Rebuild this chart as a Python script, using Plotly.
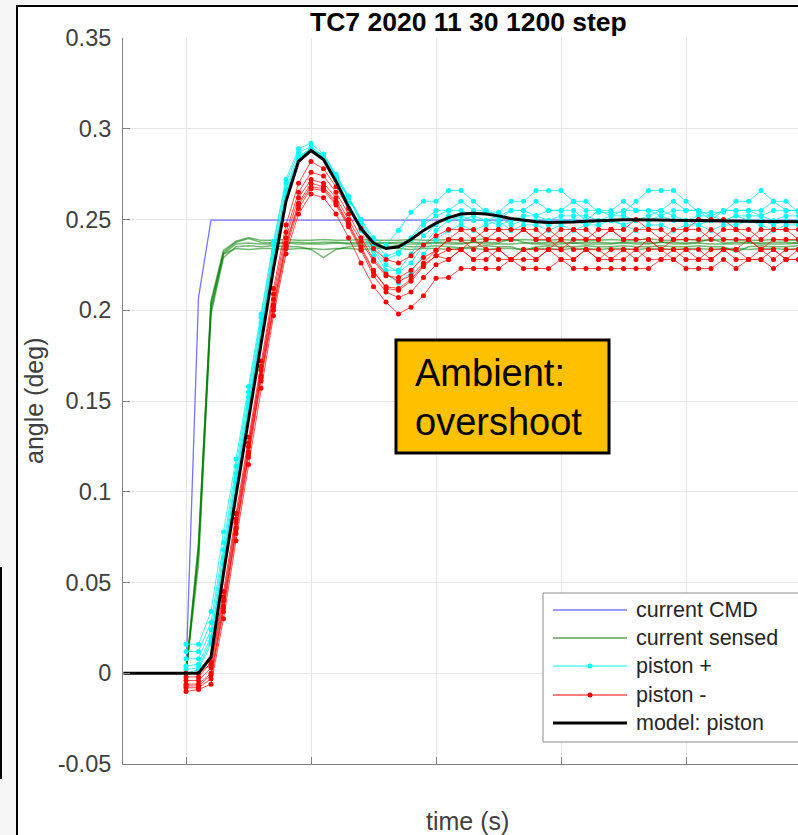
import plotly.graph_objects as go

# ---------------- data ----------------
TIME = [0.0, 0.1, 0.2, 0.3, 0.4, 0.5, 0.6, 0.7, 0.8, 0.9,
        1.0, 1.1, 1.2, 1.3, 1.4, 1.5, 1.6, 1.7, 1.8, 1.9,
        2.0, 2.1, 2.2, 2.3, 2.4, 2.5, 2.6, 2.7, 2.8, 2.9,
        3.0, 3.1, 3.2, 3.3, 3.4, 3.5, 3.6, 3.7, 3.8, 3.9,
        4.0, 4.1, 4.2, 4.3, 4.4, 4.5, 4.6, 4.7, 4.8, 4.9,
        5.0]

CMD_T = [-0.5, 0.0, 0.1, 0.2, 5.0]
CMD_Y = [0.0, 0.0, 0.207, 0.2497, 0.2497]

SENSED = [
    [0.0, 0.070, 0.205, 0.233, 0.238, 0.240, 0.2385, 0.2385, 0.239, 0.2385,
     0.2385, 0.239, 0.2385, 0.2385, 0.239, 0.2385, 0.2385, 0.2385, 0.239, 0.2385,
     0.2385, 0.239, 0.2385, 0.2385, 0.2395, 0.2385, 0.2385, 0.239, 0.2385, 0.2385,
     0.239, 0.2385, 0.2385, 0.2385, 0.239, 0.2385, 0.2385, 0.2395, 0.2385, 0.2385,
     0.239, 0.2385, 0.2385, 0.239, 0.2385, 0.2385, 0.2385, 0.239, 0.2385, 0.2385,
     0.2385],
    [0.0, 0.065, 0.200, 0.231, 0.2365, 0.237, 0.2365, 0.2365, 0.237, 0.2365,
     0.2365, 0.2365, 0.237, 0.2365, 0.2365, 0.2365, 0.237, 0.2365, 0.2365, 0.2365,
     0.237, 0.2365, 0.2365, 0.2375, 0.2365, 0.2365, 0.2365, 0.237, 0.2365, 0.2365,
     0.2365, 0.237, 0.2365, 0.2365, 0.2365, 0.237, 0.2365, 0.2365, 0.2375, 0.2365,
     0.2365, 0.237, 0.2365, 0.2365, 0.2365, 0.237, 0.2365, 0.2365, 0.2365, 0.237,
     0.2365],
    [0.0, 0.060, 0.198, 0.229, 0.235, 0.2355, 0.235, 0.2355, 0.235, 0.235,
     0.2335, 0.229, 0.2335, 0.235, 0.2355, 0.235, 0.235, 0.2355, 0.235, 0.235,
     0.2355, 0.235, 0.2345, 0.235, 0.2355, 0.235, 0.235, 0.233, 0.235, 0.2355,
     0.235, 0.235, 0.2355, 0.235, 0.235, 0.2355, 0.235, 0.235, 0.2355, 0.235,
     0.235, 0.2355, 0.235, 0.235, 0.232, 0.235, 0.2355, 0.235, 0.235, 0.2355,
     0.235],
    [0.0, 0.068, 0.202, 0.231, 0.234, 0.2335, 0.234, 0.234, 0.2335, 0.234,
     0.234, 0.2335, 0.234, 0.234, 0.2335, 0.234, 0.2345, 0.234, 0.2335, 0.234,
     0.234, 0.2335, 0.234, 0.234, 0.2335, 0.234, 0.234, 0.2335, 0.234, 0.234,
     0.2335, 0.234, 0.234, 0.2335, 0.234, 0.234, 0.2335, 0.234, 0.234, 0.2335,
     0.234, 0.234, 0.2335, 0.234, 0.234, 0.2335, 0.234, 0.234, 0.2335, 0.234,
     0.234],
    [0.0, 0.072, 0.204, 0.232, 0.2375, 0.2395, 0.2375, 0.237, 0.2375, 0.2375,
     0.237, 0.2375, 0.2375, 0.237, 0.2375, 0.2375, 0.237, 0.2375, 0.2375, 0.237,
     0.2375, 0.2375, 0.237, 0.2375, 0.2375, 0.237, 0.2395, 0.2375, 0.237, 0.2375,
     0.2375, 0.237, 0.2375, 0.2375, 0.237, 0.2375, 0.2375, 0.237, 0.2375, 0.2375,
     0.237, 0.2375, 0.2395, 0.237, 0.2375, 0.2375, 0.237, 0.2375, 0.2375, 0.237,
     0.2375],
]

PISTON_PLUS = [
    [0.016, 0.016, 0.034, 0.078, 0.118, 0.158, 0.198, 0.238, 0.272, 0.289,
     0.292, 0.286, 0.274, 0.262, 0.250, 0.240, 0.236, 0.244, 0.254, 0.260,
     0.260, 0.266, 0.266, 0.260, 0.254, 0.254, 0.260, 0.260, 0.266, 0.266,
     0.266, 0.260, 0.260, 0.254, 0.254, 0.254, 0.260, 0.266, 0.266, 0.266,
     0.260, 0.254, 0.254, 0.254, 0.260, 0.260, 0.266, 0.260, 0.260, 0.254,
     0.254],
    [0.012, 0.012, 0.028, 0.072, 0.114, 0.155, 0.196, 0.236, 0.270, 0.287,
     0.290, 0.285, 0.273, 0.262, 0.249, 0.236, 0.228, 0.231, 0.240, 0.249,
     0.255, 0.255, 0.260, 0.255, 0.255, 0.2495, 0.255, 0.255, 0.260, 0.255,
     0.255, 0.255, 0.2495, 0.255, 0.255, 0.260, 0.255, 0.255, 0.255, 0.260,
     0.255, 0.255, 0.2495, 0.255, 0.255, 0.255, 0.255, 0.260, 0.255, 0.255,
     0.255],
    [0.008, 0.008, 0.024, 0.068, 0.110, 0.152, 0.193, 0.233, 0.267, 0.285,
     0.289, 0.284, 0.272, 0.259, 0.246, 0.233, 0.222, 0.222, 0.231, 0.241,
     0.247, 0.252, 0.2495, 0.252, 0.2495, 0.247, 0.2495, 0.252, 0.252, 0.2495,
     0.252, 0.252, 0.252, 0.2495, 0.252, 0.252, 0.2495, 0.252, 0.255, 0.252,
     0.2495, 0.252, 0.252, 0.2495, 0.252, 0.252, 0.252, 0.2495, 0.252, 0.252,
     0.2495],
    [0.004, 0.005, 0.020, 0.064, 0.107, 0.149, 0.190, 0.231, 0.265, 0.284,
     0.289, 0.285, 0.274, 0.262, 0.248, 0.234, 0.225, 0.221, 0.226, 0.236,
     0.244, 0.2495, 0.252, 0.2495, 0.2495, 0.252, 0.247, 0.2495, 0.2495, 0.247,
     0.2495, 0.2495, 0.247, 0.2495, 0.2495, 0.247, 0.2495, 0.2495, 0.252, 0.2495,
     0.2495, 0.247, 0.2495, 0.2495, 0.252, 0.2495, 0.2495, 0.247, 0.2495, 0.2495,
     0.247],
    [0.000, 0.002, 0.016, 0.060, 0.103, 0.146, 0.188, 0.229, 0.263, 0.283,
     0.288, 0.284, 0.273, 0.259, 0.244, 0.230, 0.220, 0.215, 0.221, 0.231,
     0.239, 0.244, 0.247, 0.244, 0.247, 0.2495, 0.244, 0.247, 0.247, 0.244,
     0.247, 0.244, 0.247, 0.247, 0.2495, 0.247, 0.244, 0.247, 0.247, 0.244,
     0.247, 0.247, 0.244, 0.247, 0.247, 0.2495, 0.247, 0.244, 0.247, 0.247,
     0.244],
    [0.002, 0.003, 0.018, 0.063, 0.105, 0.147, 0.190, 0.230, 0.264, 0.284,
     0.288, 0.286, 0.275, 0.263, 0.250, 0.238, 0.230, 0.232, 0.239, 0.247,
     0.252, 0.255, 0.255, 0.252, 0.255, 0.252, 0.255, 0.255, 0.252, 0.255,
     0.255, 0.260, 0.255, 0.255, 0.252, 0.255, 0.255, 0.255, 0.252, 0.255,
     0.255, 0.255, 0.252, 0.255, 0.255, 0.255, 0.252, 0.255, 0.255, 0.255,
     0.252],
]

PISTON_MINUS = [
    [-0.002, -0.002, 0.006, 0.045, 0.088, 0.130, 0.172, 0.212, 0.247, 0.270,
     0.282, 0.278, 0.268, 0.256, 0.245, 0.234, 0.228, 0.226, 0.230, 0.236,
     0.241, 0.2445, 0.2445, 0.2445, 0.239, 0.2445, 0.2445, 0.2445, 0.2445, 0.239,
     0.2445, 0.2445, 0.239, 0.2445, 0.2445, 0.2445, 0.250, 0.2445, 0.2445, 0.239,
     0.2445, 0.250, 0.250, 0.250, 0.2445, 0.2445, 0.239, 0.2445, 0.2445, 0.2445,
     0.2445],
    [-0.004, -0.004, 0.003, 0.040, 0.083, 0.125, 0.167, 0.206, 0.240, 0.262,
     0.272, 0.270, 0.262, 0.250, 0.238, 0.227, 0.219, 0.218, 0.222, 0.229,
     0.233, 0.239, 0.239, 0.2335, 0.239, 0.239, 0.239, 0.2445, 0.239, 0.239,
     0.2335, 0.239, 0.239, 0.239, 0.2445, 0.239, 0.239, 0.239, 0.2335, 0.239,
     0.239, 0.239, 0.2445, 0.239, 0.239, 0.239, 0.2335, 0.239, 0.239, 0.239,
     0.239],
    [-0.006, -0.006, 0.000, 0.037, 0.080, 0.122, 0.164, 0.203, 0.237, 0.259,
     0.270, 0.268, 0.260, 0.248, 0.235, 0.222, 0.212, 0.211, 0.216, 0.224,
     0.230, 0.2335, 0.2335, 0.239, 0.2335, 0.2335, 0.228, 0.2335, 0.2335, 0.2335,
     0.239, 0.2335, 0.2335, 0.228, 0.2335, 0.2335, 0.2335, 0.239, 0.2335, 0.2335,
     0.2335, 0.228, 0.2335, 0.2335, 0.2335, 0.239, 0.2335, 0.2335, 0.228, 0.2335,
     0.2335],
    [-0.008, -0.008, -0.003, 0.034, 0.077, 0.119, 0.161, 0.200, 0.234, 0.256,
     0.267, 0.266, 0.258, 0.246, 0.233, 0.219, 0.210, 0.207, 0.210, 0.218,
     0.225, 0.228, 0.2335, 0.228, 0.228, 0.2335, 0.228, 0.228, 0.228, 0.2335,
     0.228, 0.228, 0.2335, 0.228, 0.228, 0.228, 0.2335, 0.228, 0.228, 0.2335,
     0.228, 0.228, 0.228, 0.2335, 0.228, 0.228, 0.228, 0.2335, 0.228, 0.228,
     0.228],
    [-0.010, -0.009, -0.006, 0.030, 0.073, 0.115, 0.157, 0.197, 0.231, 0.253,
     0.264, 0.262, 0.253, 0.240, 0.226, 0.213, 0.2045, 0.198, 0.2017, 0.208,
     0.2176, 0.218, 0.223, 0.223, 0.223, 0.223, 0.228, 0.223, 0.223, 0.223,
     0.228, 0.223, 0.223, 0.223, 0.223, 0.223, 0.223, 0.223, 0.228, 0.228,
     0.223, 0.223, 0.223, 0.228, 0.223, 0.228, 0.228, 0.223, 0.228, 0.228,
     0.228],
    [0.000, 0.000, 0.005, 0.042, 0.085, 0.127, 0.169, 0.209, 0.243, 0.265,
     0.276, 0.274, 0.265, 0.253, 0.240, 0.228, 0.220, 0.216, 0.219, 0.226,
     0.233, 0.239, 0.2445, 0.239, 0.2445, 0.2445, 0.239, 0.2445, 0.239, 0.2445,
     0.239, 0.2445, 0.2445, 0.239, 0.2445, 0.239, 0.2445, 0.2445, 0.239, 0.2445,
     0.2445, 0.2445, 0.239, 0.2445, 0.2445, 0.239, 0.2445, 0.2445, 0.2445, 0.239,
     0.2445],
    [-0.007, -0.007, -0.001, 0.036, 0.079, 0.121, 0.163, 0.202, 0.236, 0.258,
     0.268, 0.267, 0.259, 0.247, 0.234, 0.221, 0.213, 0.212, 0.217, 0.225,
     0.230, 0.228, 0.2335, 0.228, 0.2335, 0.228, 0.228, 0.2335, 0.228, 0.2335,
     0.2335, 0.228, 0.2335, 0.2335, 0.228, 0.2335, 0.228, 0.2335, 0.2335, 0.228,
     0.2335, 0.2335, 0.228, 0.2335, 0.2335, 0.228, 0.2335, 0.228, 0.2335, 0.2335,
     0.228],
]

MODEL_T = [-0.5] + TIME
MODEL_Y = [0.0,
           0.0, 0.0, 0.009, 0.055, 0.098, 0.140, 0.181, 0.223, 0.260, 0.282,
           0.288, 0.283, 0.271, 0.257, 0.245, 0.237, 0.234, 0.235, 0.239, 0.244,
           0.248, 0.251, 0.253, 0.2535, 0.253, 0.252, 0.2505, 0.2495, 0.2487, 0.2483,
           0.2483, 0.2486, 0.249, 0.2494, 0.2497, 0.2498, 0.2498, 0.2497, 0.2496, 0.2495,
           0.2494, 0.2492, 0.249, 0.2489, 0.2488, 0.2487, 0.2487, 0.2487, 0.2487, 0.2487,
           0.2487]

Y_TICKS = [-0.05, 0.0, 0.05, 0.1, 0.15, 0.2, 0.25, 0.3, 0.35]
Y_TICK_TEXT = ["-0.05", "0", "0.05", "0.1", "0.15", "0.2", "0.25", "0.3", "0.35"]
X_TICKS = [0, 1, 2, 3, 4]

LEGEND_NAMES = ["current CMD", "current sensed", "piston +", "piston -", "model: piston"]
TITLE = "TC7 2020 11 30 1200 step"
NOTE = "Ambient:<br>overshoot"

# ---------------- styles ----------------
W, H = 798, 835
L, R, T, B = 123, 0, 38, 71
PW, PH = W - L - R, H - T - B
FONT = "Liberation Sans, Arial, Helvetica, sans-serif"

C_CMD = "rgba(70,70,255,0.75)"
C_SENSED = "rgba(0,128,0,0.55)"
C_PLUS_LINE = "rgba(0,235,235,0.75)"
C_PLUS_MK = "rgb(0,255,255)"
C_MINUS_LINE = "rgba(255,0,0,0.7)"
C_MINUS_MK = "rgb(255,0,0)"


def px(xp):
    return (xp - L) / PW


def py(yp):
    return (H - B - yp) / PH


fig = go.Figure()

fig.add_trace(go.Scatter(x=CMD_T, y=CMD_Y, mode="lines",
                         line=dict(color=C_CMD, width=1.3), showlegend=False))
for ys in SENSED:
    fig.add_trace(go.Scatter(x=TIME, y=ys, mode="lines",
                             line=dict(color=C_SENSED, width=1.5), showlegend=False))
for ys in PISTON_PLUS:
    fig.add_trace(go.Scatter(x=TIME, y=ys, mode="lines+markers",
                             line=dict(color=C_PLUS_LINE, width=1),
                             marker=dict(color=C_PLUS_MK, size=5), showlegend=False))
for ys in PISTON_MINUS:
    fig.add_trace(go.Scatter(x=TIME, y=ys, mode="lines+markers",
                             line=dict(color=C_MINUS_LINE, width=1),
                             marker=dict(color=C_MINUS_MK, size=5), showlegend=False))
fig.add_trace(go.Scatter(x=MODEL_T, y=MODEL_Y, mode="lines",
                         line=dict(color="black", width=3), showlegend=False))

shapes = []
annotations = []

# outer figure frame (MATLAB window look)
shapes.append(dict(type="rect", xref="paper", yref="paper", layer="below",
                   x0=px(17), x1=px(840), y0=py(880), y1=py(6),
                   fillcolor="white", line=dict(color="black", width=2)))
shapes.append(dict(type="line", xref="paper", yref="paper",
                   x0=px(1), x1=px(1), y0=py(567), y1=py(779),
                   line=dict(color="black", width=2)))

# annotation box
shapes.append(dict(type="rect", xref="paper", yref="paper",
                   x0=px(396), x1=px(609), y0=py(453), y1=py(340),
                   fillcolor="#FFC000", line=dict(color="black", width=3)))
annotations.append(dict(text=NOTE, xref="paper", yref="paper",
                        x=px(413), y=py(397), xanchor="left", yanchor="middle",
                        align="left", showarrow=False,
                        font=dict(family=FONT, size=38, color="black")))

# legend (MATLAB style)
shapes.append(dict(type="rect", xref="paper", yref="paper",
                   x0=px(543), x1=px(830), y0=py(742), y1=py(593),
                   fillcolor="white", line=dict(color="#8a8a8a", width=1)))
leg_rows = [610, 638, 666, 695, 723]
leg_colors = ["rgba(90,90,255,0.8)", "rgba(40,130,40,0.75)", C_PLUS_MK, C_MINUS_MK, "black"]
leg_widths = [1.5, 1.5, 1.2, 1.2, 3]
for i, name in enumerate(LEGEND_NAMES):
    yy = py(leg_rows[i])
    shapes.append(dict(type="line", xref="paper", yref="paper",
                       x0=px(553), x1=px(627), y0=yy, y1=yy,
                       line=dict(color=leg_colors[i], width=leg_widths[i])))
    if i in (2, 3):
        shapes.append(dict(type="circle", xref="paper", yref="paper",
                           x0=px(587.5), x1=px(592.5), y0=py(leg_rows[i] + 2.5), y1=py(leg_rows[i] - 2.5),
                           fillcolor=leg_colors[i], line=dict(width=0)))
    annotations.append(dict(text=name, xref="paper", yref="paper",
                            x=px(634), y=yy, xanchor="left", yanchor="middle",
                            showarrow=False,
                            font=dict(family=FONT, size=21.5, color="#262626")))

# title and axis labels
annotations.append(dict(text=TITLE, xref="paper", yref="paper",
                        x=px(468), y=py(22), xanchor="center", yanchor="middle",
                        showarrow=False,
                        font=dict(family=FONT, size=26.5, color="black", weight="bold")))
annotations.append(dict(text="time (s)", xref="paper", yref="paper",
                        x=px(467), y=py(821), xanchor="center", yanchor="middle",
                        showarrow=False,
                        font=dict(family=FONT, size=25, color="#404040")))
annotations.append(dict(text="angle (deg)", xref="paper", yref="paper",
                        x=px(34), y=py(401), xanchor="center", yanchor="middle",
                        textangle=-90, showarrow=False,
                        font=dict(family=FONT, size=25, color="#404040")))

fig.update_layout(
    width=W, height=H,
    margin=dict(l=L, r=R, t=T, b=B, pad=0),
    paper_bgcolor="#f6f6f6",
    plot_bgcolor="white",
    showlegend=False,
    shapes=shapes,
    annotations=annotations,
    font=dict(family=FONT),
)
fig.update_xaxes(range=[-0.504, 4.896], tickvals=X_TICKS, showticklabels=False,
                 ticks="inside", ticklen=7, tickcolor="#808080",
                 showgrid=True, gridcolor="#e6e6e6", gridwidth=1,
                 showline=True, linecolor="#808080", linewidth=1,
                 zeroline=False, mirror=False)
fig.update_yaxes(range=[-0.05, 0.35], tickvals=Y_TICKS, ticktext=Y_TICK_TEXT,
                 ticks="inside", ticklen=7, tickcolor="#808080",
                 ticklabelstandoff=6,
                 tickfont=dict(family=FONT, size=23.5, color="#404040"),
                 showgrid=True, gridcolor="#e6e6e6", gridwidth=1,
                 showline=True, linecolor="#808080", linewidth=1,
                 zeroline=False, mirror=False)

fig.write_html("out.html")
